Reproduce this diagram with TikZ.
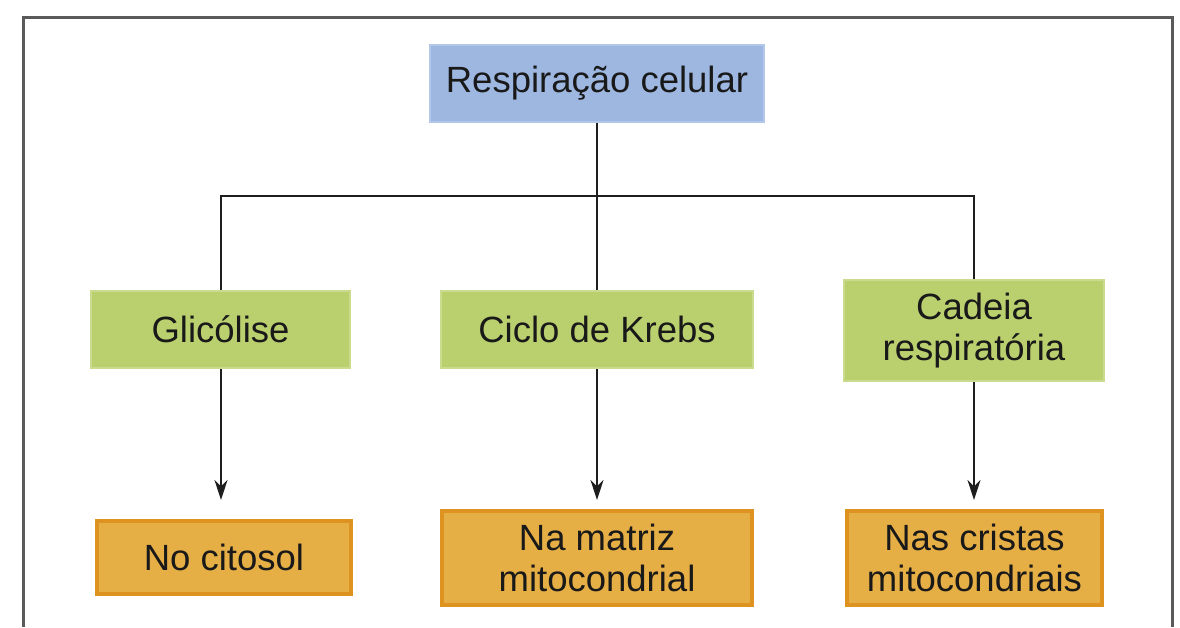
\documentclass[tikz,border=0pt]{standalone}
\usepackage{fontspec}
\setmainfont{Liberation Sans}
\usetikzlibrary{arrows.meta}
\definecolor{bluefill}{HTML}{9DB7E1}
\definecolor{blueline}{HTML}{B2C7EA}
\definecolor{greenfill}{HTML}{BAD06E}
\definecolor{greenline}{HTML}{CADB8E}
\definecolor{orangefill}{HTML}{E6AF46}
\definecolor{orangeline}{HTML}{DE9320}
\definecolor{framegray}{HTML}{5A5A5A}
\definecolor{linedark}{HTML}{1E1E1E}
\tikzset{
  box/.style={rectangle, inner sep=0pt, align=center, font=\fontsize{36.5}{41}\selectfont, text=black!90},
  bluebox/.style={box, fill=bluefill, draw=blueline, line width=2pt},
  greenbox/.style={box, fill=greenfill, draw=greenline, line width=2pt},
  orangebox/.style={box, fill=orangefill, draw=orangeline, line width=4pt},
  conn/.style={draw=linedark, line width=2pt},
  arr/.style={conn, -{Stealth[length=20pt,width=13pt]}},
}
\begin{document}
\begin{tikzpicture}[x=1pt,y=-1pt]
\useasboundingbox (0,0) rectangle (1180,627);
\fill[white] (0,0) rectangle (1180,627);
\draw[framegray, line width=3pt] (23,627) -- (23,17) -- (1172,17) -- (1172,627);

\node[bluebox, minimum width=334pt, minimum height=77pt] (top) at (597,83.5) {Respiração celular};

\node[greenbox, minimum width=259pt, minimum height=77pt] (g1) at (220.5,329.5) {Glicólise};
\node[greenbox, minimum width=312pt, minimum height=77pt] (g2) at (597,329.5) {Ciclo de Krebs};
\node[greenbox, minimum width=260pt, minimum height=101pt] (g3) at (974,330.5) {Cadeia\\respiratória};

\node[orangebox, minimum width=254pt, minimum height=73pt] (o1) at (224,557.5) {No citosol};
\node[orangebox, minimum width=310pt, minimum height=94pt] (o2) at (597,558) {Na matriz\\mitocondrial};
\node[orangebox, minimum width=255pt, minimum height=94pt] (o3) at (974.5,558) {Nas cristas\\mitocondriais};

\coordinate (bus) at (597,196);
\coordinate (t1) at (221,500);
\coordinate (t2) at (597,500);
\coordinate (t3) at (974,500);

\draw[conn] (top.south) -- (g2.north);
\draw[conn] (g1.north -| t1) |- (bus) -| (g3.north);

\draw[arr] (g1.south -| t1) -- (t1);
\draw[arr] (g2.south) -- (t2);
\draw[arr] (g3.south) -- (t3);
\end{tikzpicture}
\end{document}
